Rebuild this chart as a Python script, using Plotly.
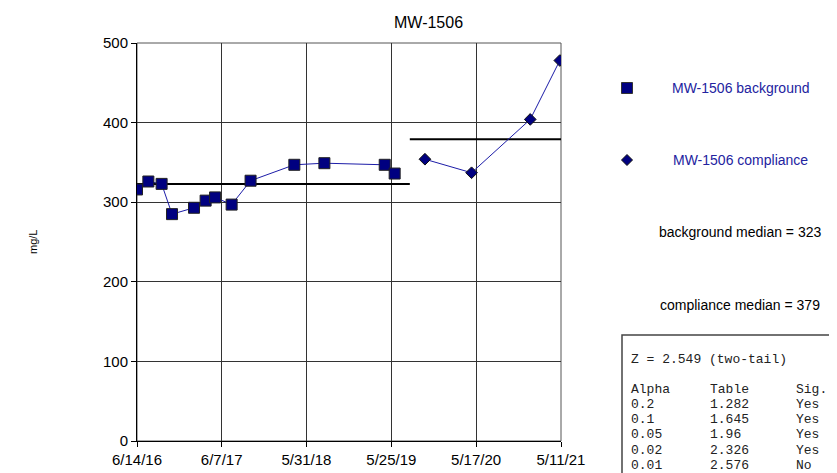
import numpy as np
import pandas as pd
import plotly.graph_objects as go

# sample data
bg_dates = ["2016-06-14", "2016-08-01", "2016-09-26", "2016-11-09", "2017-02-10",
            "2017-03-31", "2017-05-10", "2017-07-19", "2017-10-07", "2018-04-10",
            "2018-08-15", "2019-04-27", "2019-06-08"]
bg_vals = [316, 326, 323, 285, 293, 302, 306, 297, 327, 347, 349, 347, 336]

cp_dates = ["2019-10-14", "2020-04-28", "2021-01-01", "2021-05-06"]
cp_vals = [354, 337, 404, 478]

tick_dates = ["2016-06-14", "2017-06-07", "2018-05-31", "2019-05-25",
              "2020-05-17", "2021-05-11"]
tick_labels = ["6/14/16", "6/7/17", "5/31/18", "5/25/19", "5/17/20", "5/11/21"]

z_text = "Z = 2.549 (two-tail)"
alphas = ["0.2", "0.1", "0.05", "0.02", "0.01"]
tables = ["1.282", "1.645", "1.96", "2.326", "2.576"]
sigs = ["Yes", "Yes", "Yes", "Yes", "No"]

bg_med = float(np.median(bg_vals))
cp_med = float(np.median(cp_vals))
split = pd.Timestamp(bg_dates[-1]) + (pd.Timestamp(cp_dates[0]) - pd.Timestamp(bg_dates[-1])) / 2

W, H = 837, 473
L, R, T, B = 129, 553, 35, 433


def px(x):
    return (x - L) / (R - L)


def py(y):
    return (B - y) / (B - T)


fig = go.Figure()

fig.add_trace(go.Scatter(x=[tick_dates[0], split], y=[bg_med, bg_med], mode="lines",
                         line=dict(color="black", width=2), showlegend=False, hoverinfo="skip"))
fig.add_trace(go.Scatter(x=[split, tick_dates[-1]], y=[cp_med, cp_med], mode="lines",
                         line=dict(color="black", width=2), showlegend=False, hoverinfo="skip"))

fig.add_trace(go.Scatter(x=bg_dates, y=bg_vals, mode="lines+markers", name="MW-1506 background",
                         line=dict(color="#1c1ca8", width=1),
                         marker=dict(symbol="square", size=11, color="#000080",
                                     line=dict(color="#222222", width=1)),
                         showlegend=False))
fig.add_trace(go.Scatter(x=cp_dates, y=cp_vals, mode="lines+markers", name="MW-1506 compliance",
                         line=dict(color="#1c1ca8", width=1),
                         marker=dict(symbol="diamond", size=9, color="#000080",
                                     line=dict(color="#111111", width=1)),
                         showlegend=False))

shapes = []
# plot frame (top / right)
shapes.append(dict(type="rect", xref="paper", yref="paper", x0=0, x1=1, y0=0, y1=1,
                   line=dict(color="#555555", width=1), layer="below"))
# legend symbols
shapes.append(dict(type="rect", xref="paper", yref="paper",
                   x0=px(613.5), x1=px(624.5), y0=py(85.5), y1=py(74.5),
                   fillcolor="#000080", line=dict(color="#333333", width=1)))
r = 5.5
shapes.append(dict(type="path", xref="paper", yref="paper",
                   path=f"M {px(619 - r)} {py(152)} L {px(619)} {py(152 - r)} L {px(619 + r)} {py(152)} L {px(619)} {py(152 + r)} Z",
                   fillcolor="#000080", line=dict(color="#111111", width=1)))
# stats box
shapes.append(dict(type="rect", xref="paper", yref="paper",
                   x0=px(614), x1=px(835), y0=py(468), y1=py(327),
                   line=dict(color="#444444", width=1.5), fillcolor="white"))
fig.update_layout(shapes=shapes)

ann = []
sans = "Liberation Sans, Arial, sans-serif"
mono = "Liberation Mono, Courier New, monospace"
base = dict(xref="paper", yref="paper", showarrow=False, xanchor="center", yanchor="middle")
ann.append(dict(x=px(420), y=py(14), text="MW-1506",
                font=dict(family=sans, size=16, color="black"), **base))
ann.append(dict(x=px(25), y=py(234), text="mg/L", textangle=-90,
                font=dict(family=sans, size=11, color="black"), **base))
for text, y in [("MW-1506 background", 80), ("MW-1506 compliance", 152)]:
    ann.append(dict(x=px(732), y=py(y), text=text,
                    font=dict(family=sans, size=14, color="#2323a0"), **base))
ann.append(dict(x=px(732), y=py(224), text=f"background median = {bg_med:g}",
                font=dict(family=sans, size=14, color="black"), **base))
ann.append(dict(x=px(732), y=py(297), text=f"compliance median = {cp_med:g}",
                font=dict(family=sans, size=14, color="black"), **base))

cell = dict(xref="paper", yref="paper", showarrow=False, xanchor="left", yanchor="middle",
            font=dict(family=mono, size=13, color="#222222"))
ann.append(dict(x=px(621), y=py(351), text=z_text, **cell))
rows = [("Alpha", "Table", "Sig.")] + list(zip(alphas, tables, sigs))
for i, (a, t, s) in enumerate(rows):
    yy = py(381 + i * 15.3)
    ann.append(dict(x=px(621), y=yy, text=a, **cell))
    ann.append(dict(x=px(700), y=yy, text=t, **cell))
    ann.append(dict(x=px(786), y=yy, text=s, **cell))
fig.update_layout(annotations=ann)

fig.update_xaxes(type="date", range=[tick_dates[0], tick_dates[-1]],
                 tickvals=tick_dates, ticktext=tick_labels,
                 showgrid=True, gridcolor="#333333", gridwidth=1,
                 showline=True, linecolor="black", linewidth=1,
                 ticks="outside", ticklen=5, tickcolor="black",
                 tickfont=dict(family=sans, size=15, color="black"), zeroline=False)
fig.update_yaxes(range=[0, 500], dtick=100, tick0=0,
                 showgrid=True, gridcolor="#333333", gridwidth=1,
                 showline=True, linecolor="black", linewidth=1,
                 ticks="outside", ticklen=5, tickcolor="black",
                 tickfont=dict(family=sans, size=15, color="black"), zeroline=False)

fig.update_layout(width=W, height=H, margin=dict(l=L, r=W - R, t=T, b=H - B),
                  plot_bgcolor="white", paper_bgcolor="white", showlegend=False)

fig.write_html("out.html")
